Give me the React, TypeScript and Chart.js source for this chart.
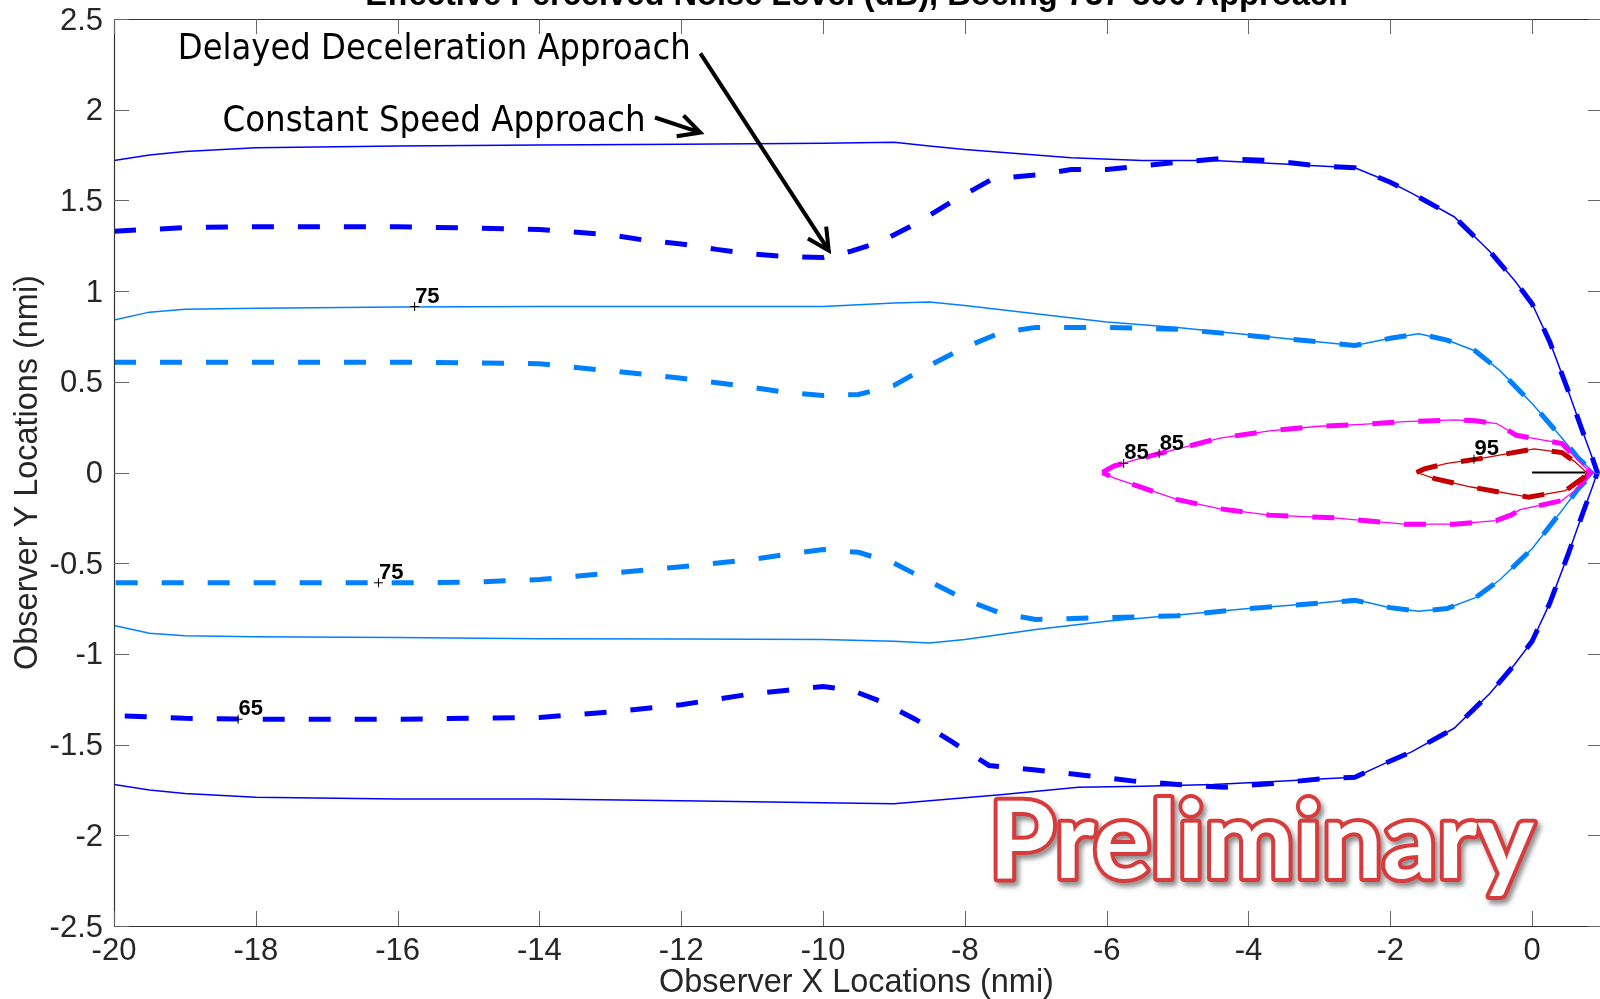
import React, { useEffect, useRef } from "react";
import { Chart, registerables } from "chart.js";

Chart.register(...registerables);

// ---------- axes ----------
const xTicks = [-20, -18, -16, -14, -12, -10, -8, -6, -4, -2, 0];
const yTicks = [-2.5, -2, -1.5, -1, -0.5, 0, 0.5, 1, 1.5, 2, 2.5];
const xMin = -20;
const xMax = 1;
const yMin = -2.5;
const yMax = 2.5;

const titleText = "Effective Perceived Noise Level (dB), Boeing 737-800 Approach";
const xAxisTitle = "Observer X Locations (nmi)";
const yAxisTitle = "Observer Y Locations (nmi)";

// ---------- 65 dB, constant speed (solid dark blue) ----------
const cs65X = [-20, -19.5, -19, -18, -16, -14, -12, -10, -9, -8.5, -8, -7, -6.5, -5.5, -4.5, -3.5, -3, -2.5, -2, -1.7, -1.1, -0.6, -0.25, 0, 0.25, 0.5, 0.7, 0.85, 0.92,
  0.85, 0.7, 0.5, 0.25, 0, -0.25, -0.6, -1.1, -1.7, -2, -2.5, -3, -3.5, -4.5, -5.5, -6.4, -7.5, -8.5, -9, -10, -12, -14, -16, -18, -19, -19.5, -20];
const cs65Y = [1.72, 1.75, 1.77, 1.79, 1.8, 1.805, 1.81, 1.815, 1.82, 1.8, 1.78, 1.75, 1.735, 1.72, 1.72, 1.7, 1.69, 1.68, 1.6, 1.54, 1.41, 1.22, 1.06, 0.93, 0.72, 0.46, 0.24, 0.08, 0,
  -0.08, -0.24, -0.46, -0.72, -0.93, -1.06, -1.22, -1.41, -1.54, -1.59, -1.68, -1.69, -1.7, -1.72, -1.73, -1.735, -1.777, -1.81, -1.826, -1.82, -1.81, -1.8, -1.8, -1.79, -1.77, -1.75, -1.72];

// ---------- 65 dB, delayed deceleration (dashed dark blue) ----------
const dd65X = [-20, -19, -18, -16, -14, -13, -12.5, -12, -11.5, -11, -10.5, -10, -9.6, -9.2, -8.7, -8.2, -7.6, -7, -6.5, -6, -5.5, -5, -4.4, -3.7, -3, -2.5, -2, -1.7, -1.1, -0.6, -0.25, 0, 0.25, 0.5, 0.7, 0.85, 0.92,
  0.85, 0.7, 0.5, 0.25, 0, -0.25, -0.6, -1.1, -1.7, -2, -2.5, -3, -3.7, -4.35, -5, -5.64, -6.3, -7, -7.66, -8.2, -8.7, -9.2, -9.6, -10, -10.5, -11, -12, -13, -14, -16, -18, -19, -20];
const dd65Y = [1.33, 1.35, 1.355, 1.355, 1.34, 1.31, 1.28, 1.26, 1.23, 1.205, 1.19, 1.185, 1.22, 1.27, 1.37, 1.49, 1.62, 1.64, 1.67, 1.67, 1.69, 1.71, 1.73, 1.72, 1.69, 1.68, 1.6, 1.54, 1.41, 1.22, 1.06, 0.93, 0.72, 0.46, 0.24, 0.08, 0,
  -0.08, -0.24, -0.46, -0.72, -0.93, -1.06, -1.22, -1.41, -1.54, -1.59, -1.68, -1.69, -1.716, -1.735, -1.72, -1.7, -1.67, -1.64, -1.615, -1.48, -1.36, -1.26, -1.2, -1.18, -1.2, -1.22, -1.28, -1.32, -1.35, -1.36, -1.36, -1.355, -1.34];

// ---------- 75 dB, constant speed (solid light blue) ----------
const cs75X = [-20, -19.5, -19, -18, -16, -14, -12, -10, -9, -8.5, -8, -7, -6, -5, -4, -3, -2.5, -2, -1.6, -1.2, -0.8, -0.45, 0, 0.4, 0.65, 0.87,
  0.65, 0.4, 0, -0.45, -0.8, -1.2, -1.6, -2, -2.5, -3, -4, -5, -6, -7, -8, -8.5, -9, -10, -12, -14, -16, -18, -19, -19.5, -20];
const cs75Y = [0.84, 0.884, 0.9, 0.905, 0.913, 0.915, 0.915, 0.915, 0.935, 0.94, 0.92, 0.875, 0.83, 0.8, 0.76, 0.72, 0.7, 0.74, 0.765, 0.73, 0.67, 0.56, 0.38, 0.2, 0.08, 0,
  -0.09, -0.22, -0.42, -0.59, -0.69, -0.75, -0.765, -0.745, -0.7, -0.72, -0.75, -0.785, -0.82, -0.865, -0.92, -0.94, -0.93, -0.92, -0.918, -0.917, -0.91, -0.905, -0.9, -0.886, -0.843];

// ---------- 75 dB, delayed deceleration (dashed light blue) ----------
const dd75X = [-20, -18, -16, -15, -14, -13, -12, -11, -10.5, -10, -9.5, -9, -8.5, -8, -7.5, -7, -6, -5, -4, -3, -2.5, -2, -1.6, -1.2, -0.8, -0.45, 0, 0.4, 0.65, 0.87,
  0.65, 0.4, 0, -0.45, -0.8, -1.2, -1.6, -2, -2.5, -3, -4, -5, -6, -7, -7.5, -8, -8.5, -9, -9.5, -10, -10.5, -11, -12, -13, -14, -15, -16, -18, -20];
const dd75Y = [0.608, 0.608, 0.608, 0.605, 0.6, 0.56, 0.52, 0.47, 0.44, 0.425, 0.43, 0.48, 0.59, 0.69, 0.77, 0.8, 0.8, 0.79, 0.755, 0.72, 0.7, 0.74, 0.765, 0.73, 0.67, 0.56, 0.38, 0.2, 0.08, 0,
  -0.09, -0.22, -0.42, -0.59, -0.69, -0.75, -0.765, -0.745, -0.705, -0.72, -0.75, -0.79, -0.8, -0.81, -0.775, -0.7, -0.6, -0.5, -0.44, -0.425, -0.45, -0.48, -0.52, -0.555, -0.59, -0.605, -0.608, -0.608, -0.608];

// ---------- 85 dB (magenta) ----------
const cs85X = [-6.06, -5.9, -5.6, -5.3, -5, -4.4, -3.7, -3, -2.4, -1.8, -1.1, -0.8, -0.5, -0.22, 0.42, 0.82,
  0.6, 0.42, -0.17, -0.3, -0.51, -1.1, -1.8, -2.8, -3.7, -4.4, -5, -5.3, -5.6, -5.9, -6.06];
const cs85Y = [0, 0.035, 0.07, 0.1, 0.13, 0.19, 0.23, 0.255, 0.265, 0.28, 0.29, 0.285, 0.27, 0.205, 0.16, 0,
  -0.1, -0.155, -0.205, -0.235, -0.265, -0.285, -0.285, -0.25, -0.235, -0.2, -0.15, -0.11, -0.07, -0.03, 0];
const dd85X = [-6.06, -5.9, -5.6, -5.3, -5, -4.4, -3.7, -3, -2.4, -1.8, -1.1, -0.8, -0.5, -0.22, 0.42, 0.82,
  0.6, 0.42, -0.17, -0.3, -0.51, -1.1, -1.8, -2.8, -3.7, -4.4, -5, -5.3, -5.6, -5.9, -6.06];
const dd85Y = [0, 0.035, 0.07, 0.1, 0.13, 0.19, 0.23, 0.255, 0.265, 0.28, 0.29, 0.285, 0.27, 0.205, 0.16, 0,
  -0.1, -0.155, -0.205, -0.235, -0.265, -0.285, -0.285, -0.25, -0.235, -0.2, -0.15, -0.11, -0.07, -0.03, 0];

// ---------- 95 dB (dark red) ----------
const cs95X = [-1.63, -1.52, -1.2, -0.76, -0.4, 0.03, 0.42, 0.6, 0.77, 0.73, 0.47, -0.05, -0.86, -1.36, -1.63];
const cs95Y = [0, 0.02, 0.05, 0.075, 0.1, 0.13, 0.11, 0.06, 0, -0.026, -0.1, -0.136, -0.08, -0.035, 0];
const dd95X = [-1.63, -1.52, -1.2, -0.76, -0.4, 0.03, 0.42, 0.6, 0.77, 0.73, 0.47, -0.05, -0.86, -1.36, -1.63];
const dd95Y = [0, 0.02, 0.05, 0.075, 0.1, 0.13, 0.11, 0.06, 0, -0.026, -0.1, -0.136, -0.08, -0.035, 0];

// ---------- flight path marker ----------
const pathX = [0, 0.75];
const pathY = [0, 0];

// ---------- contour labels ----------
const labelX = [-15.76, -16.27, -18.25, -5.76, -5.26, -0.82];
const labelY = [0.915, -0.608, -1.36, 0.05, 0.104, 0.073];
const labelText = ["75", "75", "65", "85", "85", "95"];

const zip = (xs: number[], ys: number[]) => xs.map((x, i) => ({ x, y: ys[i] }));

const fitSize = (ctx: CanvasRenderingContext2D, text: string, target: number, weight: string, family: string) => {
  ctx.font = `${weight} 100px ${family}`;
  const w = ctx.measureText(text).width;
  return (100 * target) / w;
};

// draw text at a given font size, squeezed horizontally to a target width
const fillFitted = (ctx: CanvasRenderingContext2D, text: string, x: number, y: number, font: string, targetW: number) => {
  ctx.font = font;
  const w = ctx.measureText(text).width;
  ctx.save();
  ctx.translate(x, y);
  ctx.scale(targetW / w, 1);
  ctx.fillText(text, 0, 0);
  ctx.restore();
};

const drawArrow = (ctx: CanvasRenderingContext2D, x0: number, y0: number, x1: number, y1: number) => {
  const ang = Math.atan2(y1 - y0, x1 - x0);
  const L = 24;
  const spread = (27 * Math.PI) / 180;
  ctx.beginPath();
  ctx.moveTo(x0, y0);
  ctx.lineTo(x1, y1);
  ctx.moveTo(x1 - L * Math.cos(ang - spread), y1 - L * Math.sin(ang - spread));
  ctx.lineTo(x1, y1);
  ctx.lineTo(x1 - L * Math.cos(ang + spread), y1 - L * Math.sin(ang + spread));
  ctx.stroke();
};

const matlabPlugin = {
  id: "matlabAxes",
  afterDraw(chart: any) {
    const ctx: CanvasRenderingContext2D = chart.ctx;
    const a = chart.chartArea;
    const xs = chart.scales.x;
    const ys = chart.scales.y;
    ctx.save();

    // box
    ctx.strokeStyle = "#333333";
    ctx.lineWidth = 1.2;
    ctx.beginPath();
    ctx.rect(a.left + 0.5, a.top + 0.5, a.right - a.left, a.bottom - a.top);
    ctx.stroke();

    // inward ticks on all four sides
    const TL = 15;
    ctx.strokeStyle = "#666666";
    ctx.lineWidth = 1;
    ctx.beginPath();
    xTicks.forEach((v) => {
      const px = Math.round(xs.getPixelForValue(v)) + 0.5;
      ctx.moveTo(px, a.bottom);
      ctx.lineTo(px, a.bottom - TL);
      ctx.moveTo(px, a.top);
      ctx.lineTo(px, a.top + TL);
    });
    yTicks.forEach((v) => {
      const py = Math.round(ys.getPixelForValue(v)) + 0.5;
      ctx.moveTo(a.left, py);
      ctx.lineTo(a.left + TL, py);
      ctx.moveTo(a.right, py);
      ctx.lineTo(a.right - TL, py);
    });
    ctx.stroke();

    // tick labels
    ctx.fillStyle = "#262626";
    ctx.font = "31px 'Liberation Sans', Arial, sans-serif";
    ctx.textAlign = "center";
    ctx.textBaseline = "alphabetic";
    xTicks.forEach((v) => {
      ctx.fillText(String(v), xs.getPixelForValue(v), a.bottom + 34);
    });
    ctx.textAlign = "right";
    yTicks.forEach((v) => {
      ctx.fillText(String(v), a.left - 11, ys.getPixelForValue(v) + 10.5);
    });

    // axis titles
    const cx = (a.left + a.right) / 2;
    const cy = (a.top + a.bottom) / 2;
    const axSize = fitSize(ctx, xAxisTitle, 395, "normal", "'Liberation Sans', Arial, sans-serif");
    ctx.font = `${axSize}px 'Liberation Sans', Arial, sans-serif`;
    ctx.textAlign = "center";
    ctx.fillText(xAxisTitle, cx - 2, a.bottom + 66);
    ctx.save();
    ctx.translate(37, cy);
    ctx.rotate(-Math.PI / 2);
    ctx.fillText(yAxisTitle, 0, 0);
    ctx.restore();

    // title (clipped by the top of the picture)
    const tSize = fitSize(ctx, titleText, 983, "bold", "'Liberation Sans', Arial, sans-serif");
    ctx.font = `bold ${tSize}px 'Liberation Sans', Arial, sans-serif`;
    ctx.fillStyle = "#000000";
    ctx.fillText(titleText, cx - 2, 4.5);

    // contour labels
    const meta = chart.getDatasetMeta(0);
    ctx.font = "bold 22px 'Liberation Sans', Arial, sans-serif";
    ctx.textAlign = "left";
    ctx.fillStyle = "#000000";
    labelText.forEach((t, i) => {
      const el = meta.data[i];
      if (el) ctx.fillText(t, el.x + 0.5, el.y - 4);
    });

    // annotations
    const annFont = "35px 'DejaVu Sans Condensed', 'DejaVu Sans', sans-serif";
    fillFitted(ctx, "Delayed Deceleration Approach", xs.getPixelForValue(-19.1), ys.getPixelForValue(2.282), annFont, 513);
    fillFitted(ctx, "Constant Speed Approach", xs.getPixelForValue(-18.47), ys.getPixelForValue(1.885), annFont, 423);

    ctx.strokeStyle = "#000000";
    ctx.lineWidth = 4;
    ctx.lineCap = "butt";
    ctx.lineJoin = "miter";
    drawArrow(ctx, xs.getPixelForValue(-11.73), ys.getPixelForValue(2.31), xs.getPixelForValue(-9.92), ys.getPixelForValue(1.224));
    drawArrow(ctx, xs.getPixelForValue(-12.37), ys.getPixelForValue(1.957), xs.getPixelForValue(-11.73), ys.getPixelForValue(1.874));

    // "Preliminary" stamp
    const pFamily = "Lato, 'Open Sans', sans-serif";
    const pSize = fitSize(ctx, "Preliminary", 545, "bold", pFamily);
    ctx.font = `bold ${pSize}px ${pFamily}`;
    const px0 = xs.getPixelForValue(-7.66);
    const py0 = ys.getPixelForValue(-2.238);
    ctx.lineJoin = "round";
    ctx.save();
    ctx.shadowColor = "rgba(0,0,0,0.45)";
    ctx.shadowBlur = 5;
    ctx.shadowOffsetX = 3;
    ctx.shadowOffsetY = 4;
    ctx.strokeStyle = "#d83b3b";
    ctx.lineWidth = 8;
    ctx.strokeText("Preliminary", px0, py0);
    ctx.restore();
    ctx.fillStyle = "#ffffff";
    ctx.fillText("Preliminary", px0, py0);

    ctx.restore();
  },
};

export default function App() {
  const canvasRef = useRef<HTMLCanvasElement | null>(null);

  useEffect(() => {
    if (!canvasRef.current) return;
    const canvasW = 1612;
    const solid = (xsArr: number[], ysArr: number[], color: string, w = 1.5) => ({
      data: zip(xsArr, ysArr),
      showLine: true,
      borderColor: color,
      backgroundColor: color,
      borderWidth: w,
      pointRadius: 0,
      fill: false,
      tension: 0,
    });
    const dashed = (xsArr: number[], ysArr: number[], color: string) => ({
      ...solid(xsArr, ysArr, color, 5),
      borderDash: [22, 24],
      borderCapStyle: "butt",
    });

    const chart = new Chart(canvasRef.current, {
      type: "scatter",
      data: {
        datasets: [
          {
            data: zip(labelX, labelY),
            showLine: false,
            pointStyle: "cross",
            pointRadius: 4.5,
            borderWidth: 1,
            borderColor: "#000000",
            backgroundColor: "#000000",
          },
          solid(pathX, pathY, "#000000", 2),
          solid(cs95X, cs95Y, "#d00000", 1.3),
          dashed(dd95X, dd95Y, "#c00000"),
          solid(cs85X, cs85Y, "#ff00ff", 1.3),
          dashed(dd85X, dd85Y, "#ff00ff"),
          solid(cs75X, cs75Y, "#0080ff", 1.5),
          dashed(dd75X, dd75Y, "#0080ff"),
          solid(cs65X, cs65Y, "#0000ff", 1.5),
          dashed(dd65X, dd65Y, "#0000ff"),
        ] as any,
      },
      options: {
        responsive: false,
        maintainAspectRatio: false,
        animation: false,
        events: [],
        layout: { padding: { left: 114, right: canvasW - 1603, top: 19, bottom: 999 - 926 } },
        scales: {
          x: { type: "linear", min: xMin, max: xMax, display: false },
          y: { type: "linear", min: yMin, max: yMax, display: false },
        },
        plugins: {
          legend: { display: false },
          title: { display: false },
          tooltip: { enabled: false },
        },
      },
      plugins: [matlabPlugin],
    });
    return () => chart.destroy();
  }, []);

  return (
    <div style={{ position: "fixed", left: 0, top: 0, width: 1600, height: 999, overflow: "hidden", background: "#ffffff" }}>
      <canvas ref={canvasRef} width={1612} height={999} style={{ display: "block" }} />
    </div>
  );
}
